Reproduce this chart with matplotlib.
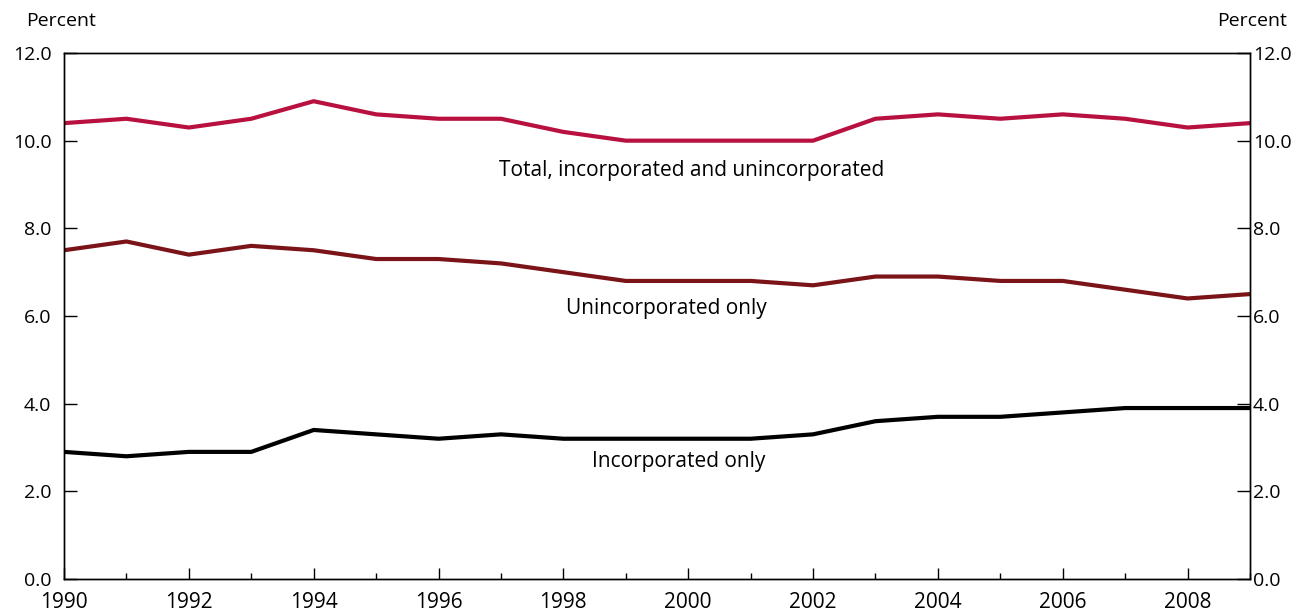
import matplotlib
matplotlib.use("Agg")
import matplotlib.pyplot as plt
from matplotlib.ticker import MultipleLocator, FormatStrFormatter

years = list(range(1990, 2010))
total = [10.4, 10.5, 10.3, 10.5, 10.9, 10.6, 10.5, 10.5, 10.2, 10.0,
         10.0, 10.0, 10.0, 10.5, 10.6, 10.5, 10.6, 10.5, 10.3, 10.4]
unincorporated = [7.5, 7.7, 7.4, 7.6, 7.5, 7.3, 7.3, 7.2, 7.0, 6.8,
                  6.8, 6.8, 6.7, 6.9, 6.9, 6.8, 6.8, 6.6, 6.4, 6.5]
incorporated = [2.9, 2.8, 2.9, 2.9, 3.4, 3.3, 3.2, 3.3, 3.2, 3.2,
                3.2, 3.2, 3.3, 3.6, 3.7, 3.7, 3.8, 3.9, 3.9, 3.9]
series_labels = ["Total, incorporated and unincorporated",
                 "Unincorporated only", "Incorporated only"]
y_label = "Percent"

plt.rcParams['font.family'] = ['Open Sans', 'DejaVu Sans']
FS = 15
YFS = 14

fig = plt.figure(figsize=(12.99, 6.16), dpi=100)
ax = fig.add_axes([64/1299, 37/616, (1250-64)/1299, (579-53)/616])

ax.plot(years, total, color="#b8103f", lw=3.0)
ax.plot(years, unincorporated, color="#7b1419", lw=3.0)
ax.plot(years, incorporated, color="#000000", lw=3.0)

ax.set_xlim(1990, 2009)
ax.set_ylim(0, 12)
ax.xaxis.set_major_locator(MultipleLocator(2))
ax.xaxis.set_minor_locator(MultipleLocator(1))
ax.yaxis.set_major_locator(MultipleLocator(2))
ax.yaxis.set_major_formatter(FormatStrFormatter('%.1f'))

for s in ax.spines.values():
    s.set_linewidth(1.0)

ax.tick_params(axis='x', which='major', direction='in', length=8, width=1.0,
               labelsize=FS, pad=9, colors='black')
ax.tick_params(axis='x', which='minor', direction='in', length=4.5, width=1.0)
ax.tick_params(axis='y', which='major', direction='in', length=9.5, width=1.0,
               labelsize=YFS, pad=9)

tw = ax.twinx()
tw.set_ylim(0, 12)
tw.yaxis.set_major_locator(MultipleLocator(2))
tw.yaxis.set_major_formatter(FormatStrFormatter('%.1f'))
tw.tick_params(axis='y', which='major', direction='in', length=9.5, width=1.0,
               labelsize=YFS, pad=2)
for s in tw.spines.values():
    s.set_linewidth(1.0)

ax.text(2000.05, 9.33, series_labels[0], ha='center', va='center', fontsize=FS)
ax.text(1999.65, 6.18, series_labels[1], ha='center', va='center', fontsize=FS)
ax.text(1999.85, 2.67, series_labels[2], ha='center', va='center', fontsize=FS)

fig.text(26/1299, 1 - 21/616, y_label, ha='left', va='center', fontsize=YFS)
fig.text(1287/1299, 1 - 21/616, y_label, ha='right', va='center', fontsize=YFS)

fig.savefig("out.png", dpi=100)
